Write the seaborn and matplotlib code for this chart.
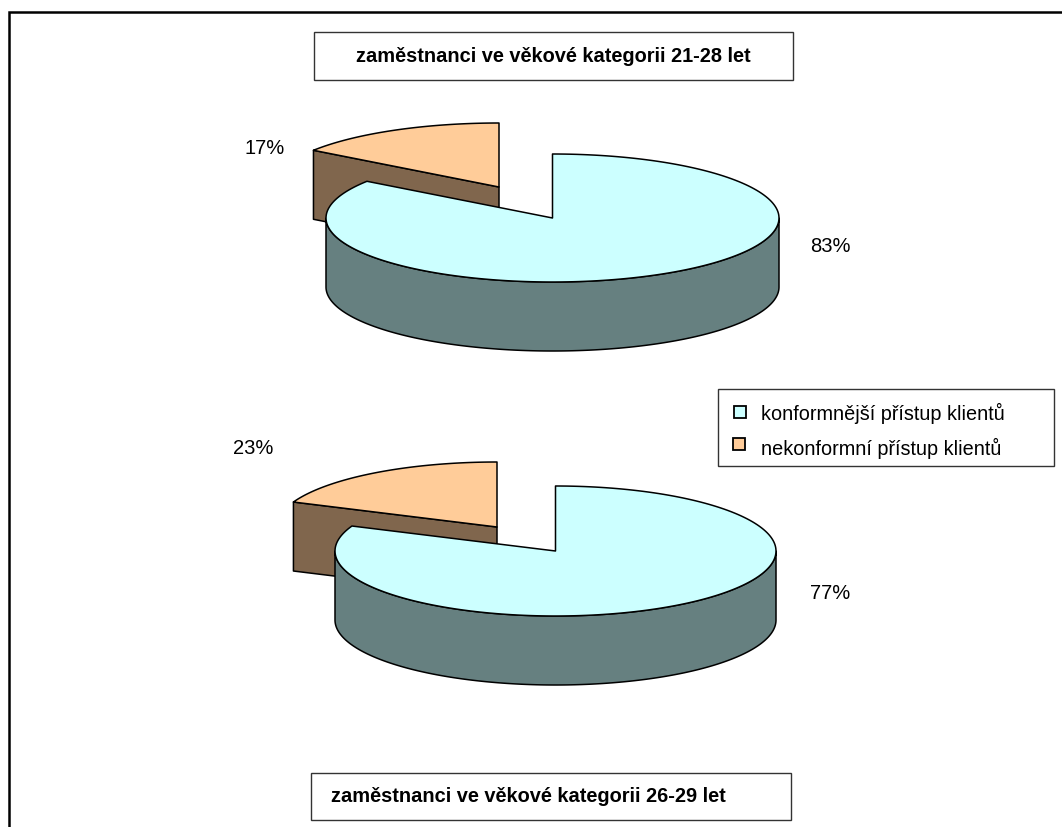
import numpy as np
import matplotlib
matplotlib.use("Agg")
import matplotlib.pyplot as plt
from matplotlib.patches import Polygon, Rectangle
import seaborn as sns

# Survey results: share of each client approach per employee age group
age_titles = ["zaměstnanci ve věkové kategorii 21-28 let",
              "zaměstnanci ve věkové kategorii 26-29 let"]
series_names = ["konformnější přístup klientů", "nekonformní přístup klientů"]
conforming = [83, 77]
nonconforming = [17, 23]

# Layout of the two 3-D pies, in pixels of the page
pie_centers = [(552.5, 219.0), (555.5, 552.0)]
pie_radii = [(226.5, 64.0), (220.5, 65.0)]
pie_depths = [69, 69]
explode_offsets = [(-53.5, -31.0), (-58.5, -24.0)]
view_shifts = [6.2, 15.4]  # perspective pull of the slice boundary, degrees
conf_label_xy = [(830, 247), (830, 594)]
nonconf_label_xy = [(265, 149), (253, 449)]
title_boxes = [(313.5, 33, 479.5, 48), (310.5, 774, 480.5, 47)]
title_text_xy = [(553, 56), (528, 797)]
legend_box = (718, 390, 336, 77)
legend_swatches = [(734, 407), (733, 439)]
legend_text_xy = [(761, 413), (761, 448)]

sns.set_theme(style="white")
plt.rcParams["font.family"] = ["Liberation Sans", "DejaVu Sans"]
top_colors = sns.color_palette(["#CCFFFF", "#FFCC99"])
side_colors = sns.color_palette(["#668080", "#80664D"])


def rim(center, radii, start, stop, drop=0.0):
    """Points on the elliptical rim; angles run clockwise from 12 o'clock."""
    t = np.radians(np.linspace(start, stop, 200))
    return np.column_stack([center[0] + radii[0] * np.sin(t),
                            center[1] - radii[1] * np.cos(t) + drop])


def draw_pie(ax, center, radii, depth, offset, share_main, share_minor, shift):
    edge = dict(edgecolor="black", linewidth=1.1, joinstyle="round")

    # Exploded minor slice: the cut face first, its top over it
    apex = np.array([center[0] + offset[0], center[1] + offset[1]])
    start = 360 - 360 * share_minor / 100 + shift
    arc = rim(apex, radii, start, 360)
    corner = arc[0]
    face = [corner, apex, apex + [0, depth], corner + [0, depth]]
    ax.add_patch(Polygon(face, closed=True, facecolor=side_colors[1], **edge))
    ax.add_patch(Polygon(np.vstack([[apex], arc]), closed=True,
                         facecolor=top_colors[1], **edge))

    # Main slice: outer wall along the front of the rim, then the top
    front = rim(center, radii, 90, 270)
    wall = np.vstack([front, rim(center, radii, 270, 90, drop=depth)])
    ax.add_patch(Polygon(wall, closed=True, facecolor=side_colors[0], **edge))
    stop = 360 * share_main / 100 + shift
    ax.add_patch(Polygon(np.vstack([[center], rim(center, radii, 0, stop)]),
                         closed=True, facecolor=top_colors[0], **edge))


fig = plt.figure(figsize=(10.62, 8.28), dpi=100, facecolor="white")
ax = fig.add_axes([0, 0, 1, 1])
ax.set_xlim(0, 1062)
ax.set_ylim(828, 0)
ax.axis("off")

# Page frame: left and top rules only
ax.plot([8.5, 8.5, 1062], [828, 13.3, 13.3], color="black", linewidth=1.8,
        solid_joinstyle="miter", solid_capstyle="butt")

for i in range(2):
    draw_pie(ax, pie_centers[i], pie_radii[i], pie_depths[i],
             explode_offsets[i], conforming[i], nonconforming[i], view_shifts[i])
    ax.text(*conf_label_xy[i], f"{conforming[i]}%", ha="center", va="center",
            fontsize=14.5, color="black")
    ax.text(*nonconf_label_xy[i], f"{nonconforming[i]}%", ha="center", va="center",
            fontsize=14.5, color="black")
    x, y, w, h = title_boxes[i]
    ax.add_patch(Rectangle((x, y), w, h, facecolor="white", edgecolor="#333333",
                           linewidth=1.0))
    ax.text(*title_text_xy[i], age_titles[i], ha="center", va="center",
            fontsize=14.4, fontweight="bold", color="black")

# Legend panel with its two swatches
x, y, w, h = legend_box
ax.add_patch(Rectangle((x, y), w, h, facecolor="white", edgecolor="#333333",
                       linewidth=1.0))
for color, name, swatch, label_xy in zip(top_colors, series_names,
                                         legend_swatches, legend_text_xy):
    ax.add_patch(Rectangle(swatch, 12, 12, facecolor=color, edgecolor="black",
                           linewidth=1.3))
    ax.text(*label_xy, name, ha="left", va="center", fontsize=14.3, color="black")

fig.savefig("out.png", dpi=100, facecolor="white")
